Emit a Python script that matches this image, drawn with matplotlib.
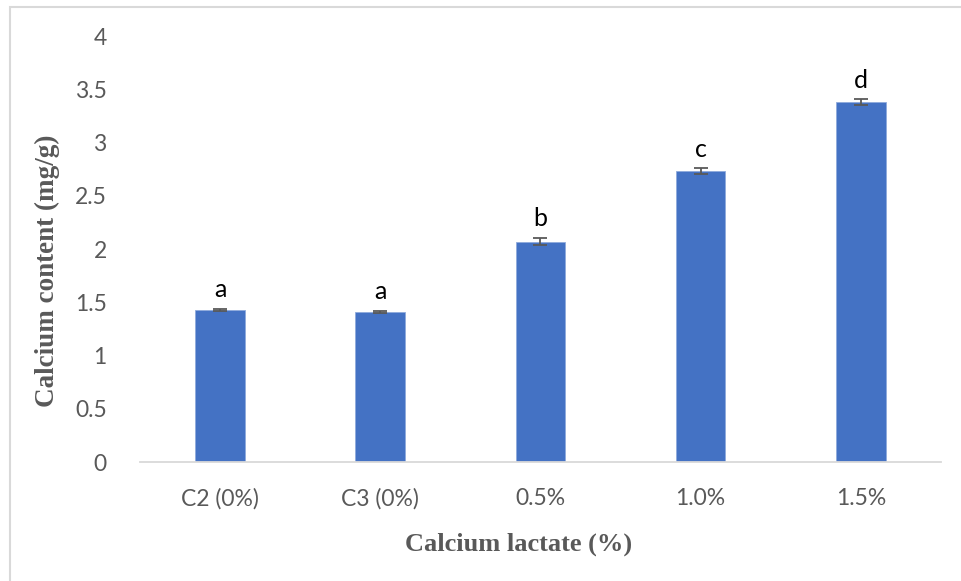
import matplotlib.pyplot as plt
from matplotlib.patches import Rectangle

# data
groups = ['C2 (0%)', 'C3 (0%)', '0.5%', '1.0%', '1.5%']
calcium = [1.43, 1.41, 2.07, 2.73, 3.38]
err = [0.01, 0.01, 0.035, 0.028, 0.027]
letters = ['a', 'a', 'b', 'c', 'd']

fig = plt.figure(figsize=(9.61, 5.81), dpi=100)
ax = fig.add_axes([0.1457, 0.2048, 0.8333, 0.7332])

x = range(len(groups))
ax.bar(x, calcium, width=0.31, color='#4472C4', edgecolor='#8faadc', linewidth=0.6,
       yerr=err, error_kw=dict(ecolor='#595959', capsize=5, elinewidth=1.3, capthick=1.3))

for i in x:
    ax.text(i, calcium[i] + err[i] + 0.18, letters[i], ha='center', va='center',
            fontsize=18, family='Lato', color='black')

ax.set_xlim(-0.5, len(groups) - 0.5)
ax.set_ylim(0, 4)
ax.set_yticks([0, 0.5, 1, 1.5, 2, 2.5, 3, 3.5, 4])
ax.set_yticklabels(['0', '0.5', '1', '1.5', '2', '2.5', '3', '3.5', '4'])
ax.set_xticks(list(x))
ax.set_xticklabels(groups)
for lab in ax.get_xticklabels() + ax.get_yticklabels():
    lab.set_family('Lato')
    lab.set_fontsize(16.5)
    lab.set_color('#595959')
ax.tick_params(axis='both', length=0)
ax.tick_params(axis='y', pad=24)
ax.tick_params(axis='x', pad=19)

for s in ['top', 'right', 'left']:
    ax.spines[s].set_visible(False)
ax.spines['bottom'].set_color('#d9d9d9')
ax.spines['bottom'].set_linewidth(1.3)

ax.set_xlabel('Calcium lactate (%)', family='Liberation Serif', fontweight='bold',
              fontsize=19, color='#595959')
ax.set_ylabel('Calcium content (mg/g)', family='Liberation Serif', fontweight='bold',
              fontsize=19.5, color='#595959')
ax.xaxis.set_label_coords(0.473, -0.165)
ax.yaxis.set_label_coords(-0.1, 0.45)

# outer chart border
fig.patches.append(Rectangle((10 / 961, -0.05), 1.2, 1 - 7 / 581 + 0.05,
                             transform=fig.transFigure, fill=False,
                             edgecolor='#d9d9d9', linewidth=1.5))

fig.savefig('out.png', dpi=100)
